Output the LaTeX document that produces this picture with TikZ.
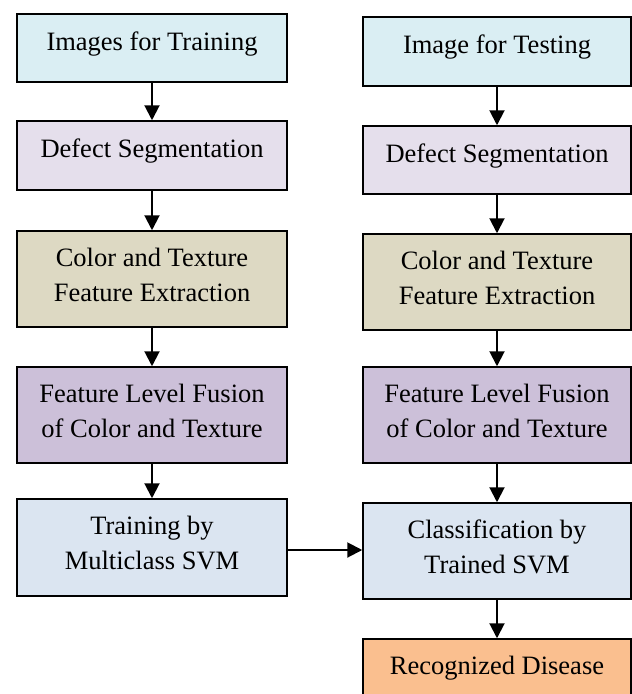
\documentclass[tikz,border=0pt]{standalone}
\usepackage{fontspec}
\setmainfont{Liberation Serif}
\usetikzlibrary{arrows.meta}
\definecolor{cImg}{HTML}{DAEEF3}
\definecolor{cSeg}{HTML}{E5DFEC}
\definecolor{cExt}{HTML}{DDD9C3}
\definecolor{cFus}{HTML}{CCC0D9}
\definecolor{cSvm}{HTML}{DBE5F1}
\definecolor{cRes}{HTML}{FABF8F}
\begin{document}
\begin{tikzpicture}[x=1pt,y=1pt,
  box/.style={draw=black, line width=1.5pt, inner sep=0pt, align=center,
    font=\fontsize{26.5}{35}\selectfont},
  lbox/.style={box, minimum width=270pt},
  rbox/.style={box, minimum width=268pt},
  oneline/.style={text height=20pt, text depth=16pt},
  twoline/.style={text height=54pt, text depth=10pt},
  arr/.style={-{Triangle[width=15pt,length=15pt]}, line width=2pt}]
\useasboundingbox (0,0) rectangle (632,-694);
% left column
\node[lbox, oneline, fill=cImg, minimum height=68pt] (L1) at (152,-48) {Images for Training};
\node[lbox, oneline, fill=cSeg, minimum height=69pt] (L2) at (152,-155.5) {Defect Segmentation};
\node[lbox, twoline, fill=cExt, minimum height=96pt] (L3) at (152,-279) {Color and Texture\\Feature Extraction};
\node[lbox, twoline, fill=cFus, minimum height=96pt] (L4) at (152,-415) {Feature Level Fusion\\of Color and Texture};
\node[lbox, twoline, fill=cSvm, minimum height=97pt] (L5) at (152,-547.5) {Training by\\Multiclass SVM};
% right column
\node[rbox, oneline, fill=cImg, minimum height=69pt] (R1) at (497,-51.5) {Image for Testing};
\node[rbox, oneline, fill=cSeg, minimum height=68pt] (R2) at (497,-160) {Defect Segmentation};
\node[rbox, twoline, fill=cExt, minimum height=96pt] (R3) at (497,-282) {Color and Texture\\Feature Extraction};
\node[rbox, twoline, fill=cFus, minimum height=96pt] (R4) at (497,-415) {Feature Level Fusion\\of Color and Texture};
\node[rbox, twoline, fill=cSvm, minimum height=96pt] (R5) at (497,-551) {Classification by\\Trained SVM};
\node[rbox, oneline, fill=cRes, minimum height=66pt] (R6) at (497,-672) {Recognized Disease};
% connectors
\draw[arr] (L1) -- (L2);
\draw[arr] (L2) -- (L3);
\draw[arr] (L3) -- (L4);
\draw[arr] (L4) -- (L5);
\draw[arr] (R1) -- (R2);
\draw[arr] (R2) -- (R3);
\draw[arr] (R3) -- (R4);
\draw[arr] (R4) -- (R5);
\draw[arr] (R5) -- (R6);
\draw[arr] ([yshift=-2.5pt]L5.east) -- ([yshift=-2.5pt]L5.east -| R5.west);
\end{tikzpicture}
\end{document}
